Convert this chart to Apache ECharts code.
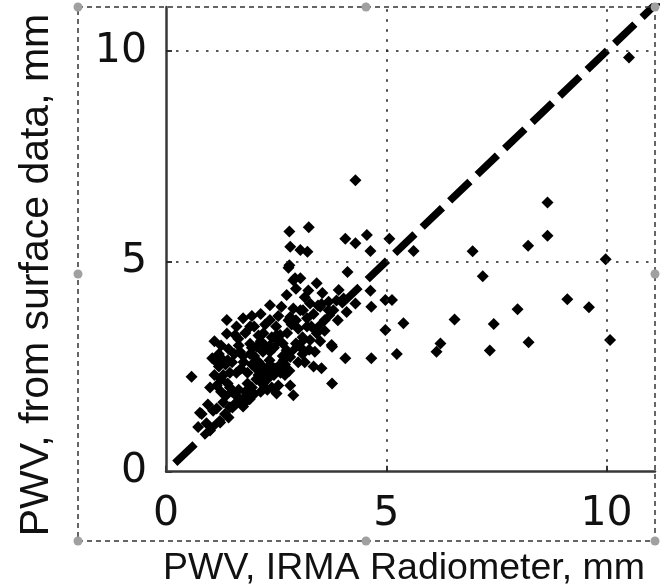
<!DOCTYPE html>
<html><head><meta charset="utf-8">
<script src="https://cdn.jsdelivr.net/npm/echarts@6/dist/echarts.min.js"></script>
<style>html,body{margin:0;padding:0;background:#fff}#c{width:661px;height:588px}</style>
</head><body><div id="c"></div>
<script>
// Tick values
const xTickValues = [0, 5, 10];
const yTickValues = [0, 5, 10];
const gridXValues = [5, 10];
const gridYValues = [5, 10];

// Scatter data: PWV from IRMA radiometer (x) vs PWV from surface data (y), mm
const pwvRadiometer = [
  4.30, 8.66, 8.66, 8.22, 6.96, 7.19, 10.51,
  4.07, 4.30, 4.56, 4.64, 5.07, 5.62,
  9.98, 4.12, 4.64,
  9.11, 9.60, 7.98, 6.55, 7.44, 8.23, 10.08, 7.35, 6.23, 6.14, 5.39, 5.24, 4.98, 4.98, 5.13, 4.66, 4.66, 4.07, 3.77, 3.77,
  3.24, 2.80, 2.82, 3.05, 3.21, 2.80, 3.05, 3.42, 3.92, 3.69, 4.03, 3.50, 3.80, 2.74, 2.36, 2.62, 2.89, 3.11, 3.27, 2.82, 2.36,
  2.21, 2.59, 3.20, 3.42, 3.27, 3.76, 2.36, 2.06, 2.82, 3.35, 3.53, 2.33, 2.62,
  3.23, 3.53, 3.69, 3.87, 3.05, 3.38, 3.05,
  2.93, 1.38, 1.91, 2.51, 1.57, 0.58, 2.51, 2.89, 0.77, 0.92,
  2.78, 2.89, 2.78, 1.38, 1.64, 2.10, 2.36, 1.91, 1.42, 1.68, 1.91, 1.30, 1.76, 2.10, 2.74, 2.67,
  2.82, 0.81, 1.07, 1.34, 0.73, 1.00, 1.45, 1.42, 1.23, 1.61,
  1.20, 1.30, 1.40, 1.50, 1.60, 1.70, 1.80, 1.95, 2.05, 2.20, 2.25, 1.50, 1.70, 1.95, 2.35, 2.45, 2.55, 1.85, 2.05, 1.15,
  1.35, 2.30, 2.55, 1.55, 1.90, 1.35, 1.10, 2.65, 1.25, 1.75, 2.00, 2.15, 1.45, 1.05, 1.20, 1.55, 1.65, 2.00, 2.20, 2.45,
  2.55, 2.15, 2.00, 2.25, 2.50, 1.10, 1.80, 1.75, 2.15,
  2.95, 3.00, 3.10, 2.95, 3.10, 3.20, 3.35, 3.00, 3.60, 3.45, 3.15, 2.95, 3.55,
  1.25, 1.45, 1.65, 1.85, 2.10, 2.30, 2.40, 2.60, 2.70, 2.80, 1.60, 1.40, 1.75, 1.95, 2.25, 2.40, 2.65, 2.75, 2.85, 2.55,
  1.95, 1.60, 1.25, 1.15, 1.00, 0.95, 1.15, 1.30, 1.80, 2.15, 2.40, 2.70, 3.15, 3.25, 3.50, 3.60, 3.30, 3.90, 4.10, 4.30
];
const pwvSurface = [
  6.93, 6.40, 5.61, 5.37, 5.24, 4.65, 9.85,
  5.54, 5.43, 5.63, 5.25, 5.54, 5.25,
  5.05, 4.75, 4.30,
  4.10, 3.91, 3.86, 3.62, 3.51, 3.08, 3.13, 2.88, 3.05, 2.85, 3.53, 2.80, 3.37, 4.08, 4.08, 3.92, 2.70, 2.70, 2.97, 2.10,
  5.81, 5.71, 5.35, 5.27, 5.23, 4.91, 4.60, 4.48, 4.32, 4.04, 4.12, 3.92, 3.84, 4.20, 3.96, 3.92, 3.88, 3.84, 4.00, 3.68, 3.61,
  3.29, 3.25, 3.45, 3.29, 3.13, 3.01, 2.85, 2.97, 2.73, 2.50, 2.46, 2.50, 2.42,
  4.31, 3.99, 3.84, 4.07, 3.84, 2.85, 2.96,
  4.60, 3.61, 3.45, 3.25, 3.25, 2.26, 1.86, 1.82, 1.40, 1.15,
  4.85, 4.55, 3.60, 3.28, 3.16, 3.24, 3.00, 3.04, 2.92, 2.85, 2.80, 2.65, 2.61, 2.61, 2.89, 2.65,
  2.05, 1.37, 1.45, 1.37, 1.06, 0.98, 1.53, 1.29, 1.17, 1.65,
  2.50, 2.30, 2.10, 1.90, 1.80, 1.70, 1.90, 2.00, 2.20, 2.10, 2.40, 2.60, 2.45, 2.55, 2.65, 2.30, 2.50, 2.35, 2.45, 2.05,
  1.80, 1.95, 2.05, 1.60, 1.72, 2.55, 2.30, 2.75, 1.90, 1.55, 1.85, 2.55, 2.35, 2.70, 2.80, 2.80, 3.00, 2.75, 2.85, 2.95,
  3.10, 3.10, 3.45, 3.50, 3.45, 3.10, 3.30, 3.65, 3.75,
  3.60, 3.40, 3.20, 3.05, 2.80, 3.65, 3.75, 2.60, 3.60, 3.95, 4.15, 4.35, 4.25,
  2.20, 2.00, 1.95, 2.10, 2.30, 2.20, 2.50, 2.35, 2.55, 2.40, 2.35, 2.65, 2.75, 2.95, 3.00, 3.20, 3.05, 3.30, 3.50, 3.70,
  3.70, 3.45, 3.00, 2.60, 2.00, 1.60, 1.50, 1.65, 1.65, 1.90, 2.00, 2.30, 2.60, 2.90, 3.10, 3.35, 3.45, 3.60, 3.80, 4.00
];

// 1:1 reference line
const oneToOneX = [0.2, 11.3];
const oneToOneY = [0.2, 11.3];

const points = pwvRadiometer.map((x, i) => [x, pwvSurface[i]]);
const linePts = oneToOneX.map((x, i) => [x, oneToOneY[i]]);

const chart = echarts.init(document.getElementById('c'), null, {renderer: 'canvas'});

const gridStyle = {color: '#222', width: 1.6, type: [2.5, 7.5]};
const markData = gridXValues.map(v => ({xAxis: v})).concat(gridYValues.map(v => ({yAxis: v})));

chart.setOption({
  animation: false,
  backgroundColor: '#fff',
  grid: {left: 166, top: 7, right: 6, bottom: 116.3, containLabel: false},
  xAxis: {
    type: 'value', min: 0, max: 11.1, interval: 5,
    axisLine: {show: true, onZero: false, lineStyle: {color: '#383838', width: 2.5}},
    axisTick: {show: true, inside: true, length: 6, customValues: xTickValues, lineStyle: {color: '#383838', width: 2}},
    axisLabel: {show: true, customValues: xTickValues, margin: 22, color: '#111',
      fontFamily: 'DejaVu Sans', fontSize: 41},
    splitLine: {show: false}
  },
  yAxis: {
    type: 'value', min: 0, max: 11.05, interval: 5,
    axisLine: {show: true, onZero: false, lineStyle: {color: '#383838', width: 2.5}},
    axisTick: {show: true, inside: true, length: 6, customValues: yTickValues, lineStyle: {color: '#383838', width: 2}},
    axisLabel: {show: true, customValues: yTickValues, margin: 19, color: '#111',
      fontFamily: 'DejaVu Sans', fontSize: 41},
    splitLine: {show: false}
  },
  series: [
    {
      type: 'scatter', data: points, symbol: 'diamond', symbolSize: 12,
      itemStyle: {color: '#000', opacity: 1}, z: 3,
      markLine: {silent: true, symbol: 'none', label: {show: false},
        lineStyle: gridStyle, data: markData, animation: false}
    },
    {
      type: 'line', data: linePts, showSymbol: false, symbol: 'none',
      lineStyle: {color: '#000', width: 7.5, type: [28, 10], cap: 'butt', opacity: 1}, z: 4, clip: true
    }
  ],
  graphic: [
    {type: 'rect', shape: {x: 78, y: 7, width: 577, height: 534},
      style: {fill: 'none', stroke: '#333', lineWidth: 1.5, lineDash: [5, 4]}, z: 10},
    ...[[78,7],[366,7],[655,7],[655,274],[655,541],[366,541],[78,541],[78,274]].map(p => ({
      type: 'circle', shape: {cx: p[0], cy: p[1], r: 4.5}, style: {fill: '#a0a0a0'}, z: 11})),
    {type: 'text', x: 404, y: 569, z: 12,
      style: {text: 'PWV, IRMA Radiometer, mm', fontFamily: 'Liberation Sans, Arial, sans-serif',
        fontSize: 37.5, fill: '#111', align: 'center', verticalAlign: 'middle'}},
    {type: 'text', x: 37, y: 275, rotation: Math.PI / 2, z: 12,
      style: {text: 'PWV, from surface data, mm', fontFamily: 'Liberation Sans, Arial, sans-serif',
        fontSize: 41, fill: '#111', align: 'center', verticalAlign: 'middle'}}
  ]
});
</script>
</body></html>
